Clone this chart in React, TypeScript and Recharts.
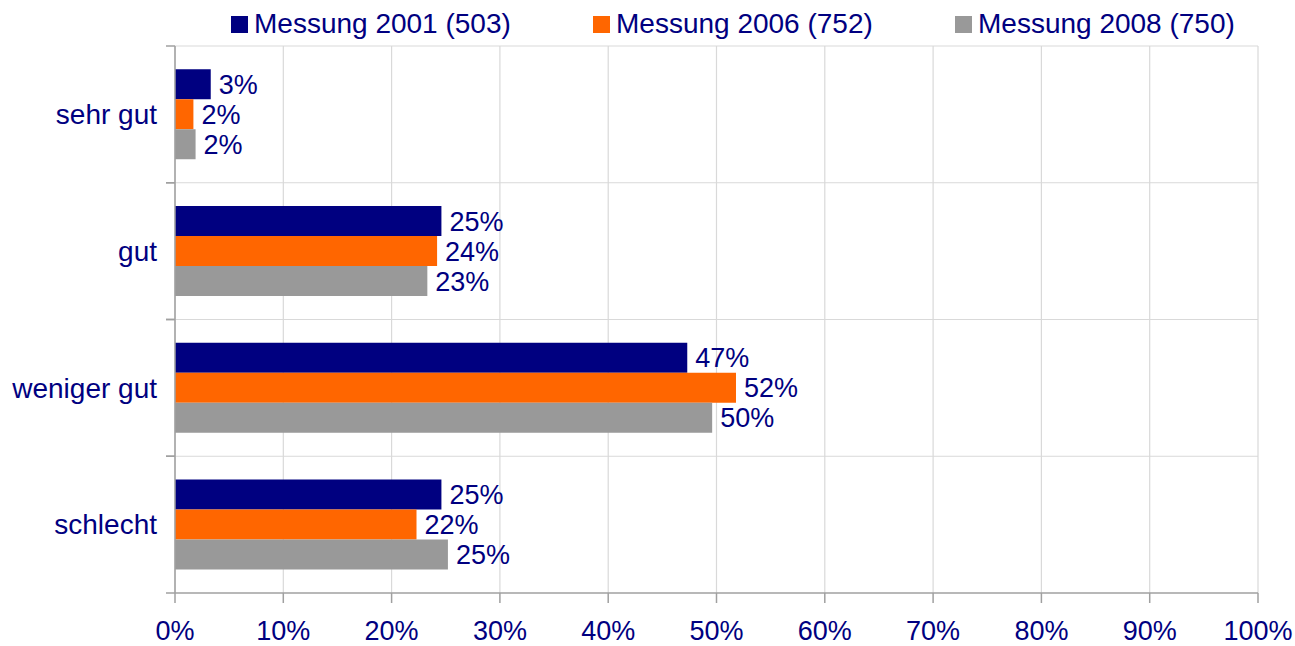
import React from 'react';
import { BarChart, Bar, XAxis, YAxis, CartesianGrid, LabelList } from 'recharts';

const categories = ['sehr gut', 'gut', 'weniger gut', 'schlecht'];
const values2001 = [3.3, 24.6, 47.3, 24.6];
const values2006 = [1.7, 24.2, 51.8, 22.3];
const values2008 = [1.9, 23.3, 49.6, 25.2];
const xTicks = [0, 10, 20, 30, 40, 50, 60, 70, 80, 90, 100];

const SERIES = [
  { key: 'm2001', name: 'Messung 2001 (503)', color: '#000080', values: values2001 },
  { key: 'm2006', name: 'Messung 2006 (752)', color: '#ff6600', values: values2006 },
  { key: 'm2008', name: 'Messung 2008 (750)', color: '#999999', values: values2008 },
];

const data = categories.map((cat, i) => {
  const row: Record<string, any> = { cat };
  SERIES.forEach((s) => {
    row[s.key] = s.values[i];
  });
  return row;
});

const FONT = '"Liberation Sans", Arial, sans-serif';
const TEXT = '#000080';
const AXIS = '#a0a0a0';
const GRID = '#d9d9d9';

const W = 1295;
const H = 646;
const MARGIN = { top: 46, right: 37, bottom: 0, left: 0 };
const X_AXIS_H = 53;
const PLOT_H = H - MARGIN.top - X_AXIS_H;
const BAND = PLOT_H / categories.length;

// category label, tick marks sit on the band edges like in the original
const CategoryTick = (props: any) => {
  const { x, y, payload } = props;
  return (
    <g>
      <line x1={x - 1} x2={x + 8} y1={y - BAND / 2} y2={y - BAND / 2} stroke={AXIS} strokeWidth={1.5} />
      <line x1={x - 1} x2={x + 8} y1={y + BAND / 2} y2={y + BAND / 2} stroke={AXIS} strokeWidth={1.5} />
      <text x={x - 10} y={y} dy="0.35em" textAnchor="end" fill={TEXT} fontSize={28} fontFamily={FONT}>
        {payload.value}
      </text>
    </g>
  );
};

// legend kept outside the chart so it does not push the plot area down
const ChartLegend = () => (
  <div
    style={{
      position: 'absolute',
      top: 10,
      left: 231,
      display: 'flex',
      fontFamily: FONT,
      fontSize: 28,
      lineHeight: '28px',
      color: TEXT,
    }}
  >
    {SERIES.map((s) => (
      <div key={s.key} style={{ width: 362, display: 'flex', alignItems: 'center' }}>
        <span style={{ width: 17, height: 17, background: s.color, marginRight: 6, display: 'inline-block' }} />
        <span>{s.name}</span>
      </div>
    ))}
  </div>
);

export default function App() {
  return (
    <div style={{ position: 'absolute', left: 0, top: 0, width: W, height: H, background: '#fff' }}>
      <BarChart
        width={W}
        height={H}
        data={data}
        layout="vertical"
        margin={MARGIN}
        barCategoryGap="17%"
        barGap={0}
      >
        <CartesianGrid
          stroke={GRID}
          strokeWidth={1.2}
          horizontalCoordinatesGenerator={({ offset }: any) =>
            categories.map((_, i) => offset.top + (offset.height * i) / categories.length)
          }
        />
        <XAxis
          type="number"
          domain={[0, 100]}
          ticks={xTicks}
          tickFormatter={(v: number) => `${v}%`}
          axisLine={{ stroke: AXIS, strokeWidth: 1.5 }}
          tickLine={{ stroke: AXIS, strokeWidth: 1.5 }}
          tickSize={10}
          tickMargin={18}
          tick={{ fill: TEXT, fontSize: 27, fontFamily: FONT }}
          height={X_AXIS_H}
          interval={0}
        />
        <XAxis
          xAxisId="top"
          orientation="top"
          type="number"
          domain={[0, 100]}
          tick={false}
          tickLine={false}
          axisLine={{ stroke: AXIS, strokeWidth: 1.5 }}
          height={0}
        />
        <YAxis
          type="category"
          dataKey="cat"
          width={175}
          axisLine={{ stroke: AXIS, strokeWidth: 1.5 }}
          tickLine={false}
          tick={<CategoryTick />}
          interval={0}
        />
        <YAxis
          yAxisId="right"
          orientation="right"
          type="category"
          dataKey="cat"
          width={0}
          tick={false}
          tickLine={false}
          axisLine={{ stroke: AXIS, strokeWidth: 1.5 }}
        />
        {SERIES.map((s) => (
          <Bar key={s.key} dataKey={s.key} name={s.name} fill={s.color} isAnimationActive={false}>
            <LabelList
              dataKey={s.key}
              position="right"
              offset={8}
              formatter={(v: any) => `${Math.round(Number(v))}%`}
              fill={TEXT}
              fontSize={27}
              fontFamily={FONT}
            />
          </Bar>
        ))}
      </BarChart>
      <ChartLegend />
    </div>
  );
}
